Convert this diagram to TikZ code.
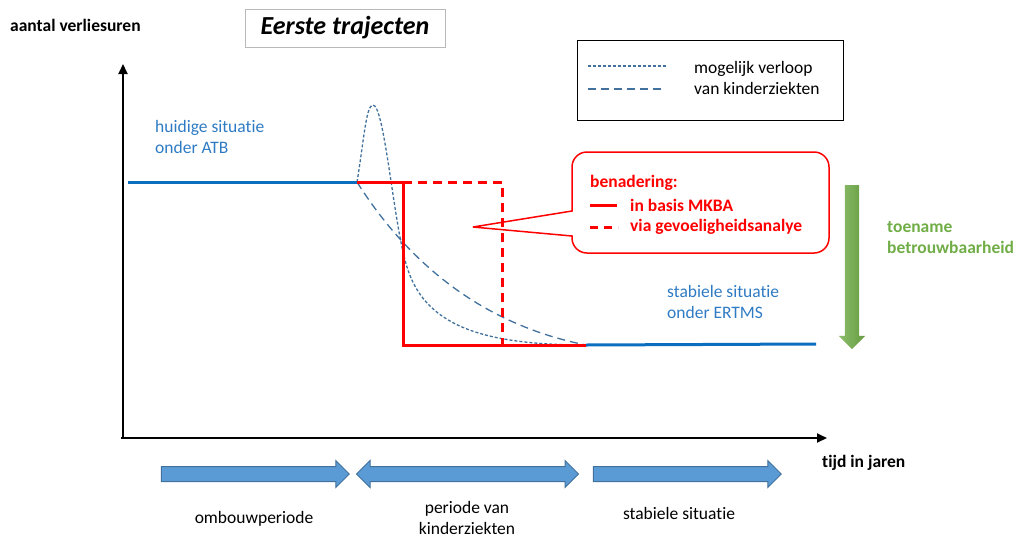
\documentclass[tikz,border=0pt]{standalone}
\usepackage{fontspec}
\setmainfont[Ligatures=NoCommon]{Carlito}
\usepackage{tikz}
\usetikzlibrary{calc, positioning, arrows.meta, shapes.arrows}
\definecolor{atbblue}{HTML}{0C6EBF}
\definecolor{txtblue}{HTML}{2E7BC4}
\definecolor{curveblue}{HTML}{41719C}
\definecolor{blockfill}{HTML}{5B9BD5}
\definecolor{blockline}{HTML}{41719C}
\definecolor{relgreen}{HTML}{70AD47}
\definecolor{calred}{HTML}{FF0000}

\begin{document}
\begin{tikzpicture}
			[x=1pt, y=-1pt, every node/.style={inner sep=0pt},
			 lbl/.style={font=\fontsize{17.5}{21}\selectfont, align=left},
			 boldlbl/.style={lbl, font=\fontsize{17.5}{21}\selectfont\bfseries},
			 axis/.style={line width=2pt, -{Triangle[length=10pt,width=9pt]}},
			 level/.style={line width=3pt, atbblue},
			 redline/.style={line width=3pt, calred},
			 finecurve/.style={line width=1.3pt, curveblue, dash pattern=on 3pt off 2pt},
			 coarsecurve/.style={line width=1.3pt, curveblue, dash pattern=on 8pt off 5pt},
			 blockarrow/.style={draw=blockline, fill=blockfill, line width=1pt, inner sep=7pt, single arrow head extend=6pt, single arrow head indent=0pt},
			 periodlbl/.style={lbl, align=center}]
			\useasboundingbox (0,0) rectangle (1021,539);

			% axes %
			\coordinate (origin) at (123,438);
			\coordinate (ytop) at (123,64);
			\coordinate (xend) at (827,438);
			\draw[axis] (origin) -- (ytop);
			\draw[axis] (121,438) -- (xend);
			\node[boldlbl, anchor=west] (ylabel) at (10,25) {aantal verliesuren};
			\node[boldlbl, anchor=west] (xlabel) at (822,463) {tijd in jaren};

			% title %
			\node[draw=gray!55, line width=1pt, minimum width=200pt, minimum height=38pt, font=\fontsize{26}{26}\selectfont\bfseries\itshape] (title) at (345,28) {Eerste trajecten};

			% levels %
			\coordinate (atbstart) at (128,182);
			\coordinate (switch) at (357,182);
			\coordinate (peak) at (373,105);
			\coordinate (redstep) at (403,182);
			\coordinate (redlow) at (403,345);
			\coordinate (dashstep) at (502,182);
			\coordinate (dashlow) at (502,345);
			\coordinate (ertmsstart) at (586,345);
			\coordinate (ertmsend) at (816,344);
			\draw[level] (atbstart) -- (switch);
			\draw[level] (ertmsstart) -- (ertmsend);
			\node[lbl, txtblue, anchor=west] (atb) at (155,137) {huidige situatie\\onder ATB};
			\node[lbl, txtblue, anchor=west] (ertms) at (667,302) {stabiele situatie\\onder ERTMS};

			% possible course %
			\draw[finecurve] (switch) .. controls (364,140) and (366,105) .. (peak)
				.. controls (384,105) and (393,215) .. (405,260)
				.. controls (420,320) and (470,345) .. (ertmsstart);
			\draw[coarsecurve] (switch) .. controls (400,250) and (470,322) .. (ertmsstart);

			% approximation %
			\draw[redline] (switch) -- (redstep) -- (redlow) -- (ertmsstart);
			\draw[redline, dash pattern=on 9pt off 6pt] (redstep) -- (dashstep) -- (dashlow);

			% legend %
			\node[draw, line width=0.8pt, minimum width=266pt, minimum height=80pt] (legend) at (710,80) {};
			\node[lbl, anchor=west] (legtext) at (694,78) {mogelijk verloop\\van kinderziekten};
			\draw[finecurve, line width=1.2pt] (588,66) -- (667,66);
			\draw[coarsecurve, line width=1.2pt] (588,89) -- (664,89);

			% callout %
			\coordinate (tip) at (473,227);
			\draw[calred, line width=1.5pt] (tip) -- (572,211)
				[rounded corners=15pt] -- (572,152) -- (829,152) -- (829,253) -- (572,253)
				[sharp corners] -- (572,236) -- (tip);
			\node[boldlbl, calred, anchor=west] (benad) at (590,183) {benadering:};
			\node[boldlbl, calred, anchor=west] (basis) at (630,205) {in basis MKBA};
			\node[boldlbl, calred, anchor=west] (gevoel) at (630,227) {via gevoeligheidsanalye};
			\draw[redline] (590,205) -- (617,205);
			\draw[redline, dash pattern=on 8pt off 6pt] (590,227) -- (618,227);

			% reliability %
			\node[single arrow, rotate=-90, inner sep=7pt, single arrow head extend=6pt, single arrow head indent=0pt,
				minimum height=164pt, left color=relgreen!80!white, right color=relgreen!90!black] (relarrow) at (852,263.5) {};
			\node[boldlbl, relgreen, anchor=west] (reltext) at (887,238) {toename\\betrouwbaarheid};

			% periods %
			\node[blockarrow, single arrow, minimum height=188pt] (ombouw) at (251.5,474) {};
			\node[blockarrow, double arrow, double arrow head extend=6pt, double arrow head indent=0pt, minimum height=222pt] (kinder) at (467.5,474) {};
			\node[blockarrow, single arrow, minimum height=188pt] (stabiel) at (683.5,474) {};
			\node[periodlbl] (ombouwtxt) at (254,519) {ombouwperiode};
			\node[periodlbl] (kindertxt) at (467,518) {periode van\\kinderziekten};
			\node[periodlbl] (stabieltxt) at (679,513) {stabiele situatie};
\end{tikzpicture}
\end{document}
